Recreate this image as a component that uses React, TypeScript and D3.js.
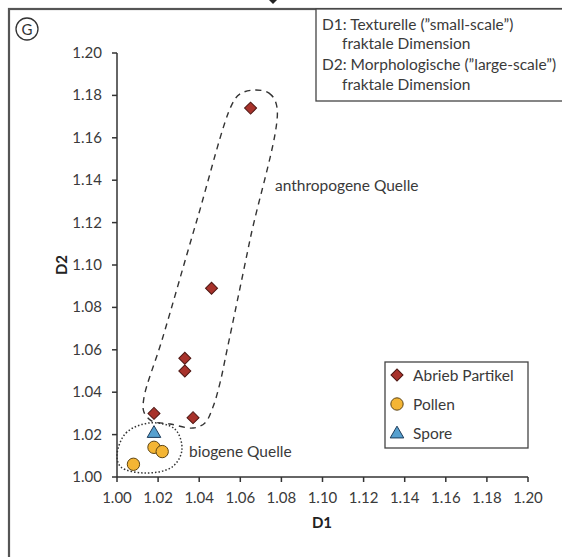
import React from 'react';
import * as d3 from 'd3';

// values
const abriebD1 = [1.065, 1.046, 1.033, 1.033, 1.018, 1.037];
const abriebD2 = [1.174, 1.089, 1.056, 1.050, 1.030, 1.028];
const pollenD1 = [1.008, 1.018, 1.022];
const pollenD2 = [1.006, 1.014, 1.012];
const sporeD1 = [1.018];
const sporeD2 = [1.021];

const ticks = [1.0, 1.02, 1.04, 1.06, 1.08, 1.1, 1.12, 1.14, 1.16, 1.18, 1.2];

// hand-drawn outlines (data coordinates)
const anthroOutline: [number, number][] = [
  [1.0662, 1.1825], [1.074, 1.1811], [1.0779, 1.1741], [1.0647, 1.1118],
  [1.0535, 1.0597], [1.0501, 1.0443], [1.0467, 1.033], [1.0428, 1.0255],
  [1.037, 1.0231], [1.0258, 1.025], [1.017, 1.0264], [1.0131, 1.0307],
  [1.0131, 1.0373], [1.0219, 1.0646], [1.0389, 1.1212], [1.056, 1.1759],
  [1.0599, 1.1807],
];
const bioOutline: [number, number][] = [
  [1.0, 1.0104], [1.0044, 1.0208], [1.016, 1.0255], [1.0282, 1.0226],
  [1.0316, 1.0127], [1.0268, 1.0047], [1.0136, 1.0019], [1.0019, 1.0047],
];

const legendItems = ['Abrieb Partikel', 'Pollen', 'Spore'];

const W = 562, H = 557;
const font = 'Lato, "Open Sans", sans-serif';
const textCol = '#3a3a3a';
const redFill = '#a8322b', redStroke = '#4d1612';
const yelFill = '#f4b534', yelStroke = '#5e4514';
const bluFill = '#56a0cf', bluStroke = '#1d3b5a';

const x = d3.scaleLinear().domain([1.0, 1.2]).range([117, 528]);
const y = d3.scaleLinear().domain([1.0, 1.2]).range([477, 53]);

const diamond = d3.symbol(d3.symbolSquare, 72)()!;
const circle = d3.symbol(d3.symbolCircle, 120)()!;
const triangle = d3.symbol(d3.symbolTriangle, 80)()!;

const outlineLine = d3
  .line<[number, number]>()
  .x(d => x(d[0]))
  .y(d => y(d[1]))
  .curve(d3.curveCatmullRomClosed.alpha(0.5));

export default function App() {
  const abrieb = abriebD1.map((d, i) => [d, abriebD2[i]]);
  const pollen = pollenD1.map((d, i) => [d, pollenD2[i]]);
  const spore = sporeD1.map((d, i) => [d, sporeD2[i]]);

  return (
    <svg width={W} height={H} style={{ position: 'absolute', left: 0, top: 0, background: '#fff' }} fontFamily={font}>
      {/* cut-off bit of the panel above */}
      <path d="M269,0 L277,0 L273,4 Z" fill="#222" />

      {/* panel frame */}
      <rect x={9} y={9} width={W + 20} height={H + 20} fill="none" stroke="#555" strokeWidth={2.2} />

      {/* panel letter */}
      <circle cx={27} cy={29} r={11} fill="none" stroke="#333" strokeWidth={1.3} />
      <text x={27} y={34.5} textAnchor="middle" fontSize={15} fill="#333">G</text>

      {/* info box */}
      <rect x={316} y={9} width={300} height={92} fill="#fff" stroke="#444" strokeWidth={1.3} />
      <g fontSize={15.5} fill={textCol}>
        <text x={322} y={30}>D1: Texturelle (”small-scale”)</text>
        <text x={342} y={49}>fraktale Dimension</text>
        <text x={322} y={70}>D2: Morphologische (”large-scale”)</text>
        <text x={342} y={90}>fraktale Dimension</text>
      </g>

      {/* axes */}
      <g stroke="#333" strokeWidth={1.5}>
        <line x1={x(1.0)} x2={x(1.2)} y1={y(1.0)} y2={y(1.0)} />
        <line x1={x(1.0)} x2={x(1.0)} y1={y(1.0)} y2={y(1.2)} />
        {ticks.map(t => (
          <line key={'xt' + t} x1={x(t)} x2={x(t)} y1={y(1.0)} y2={y(1.0) + 5} />
        ))}
        {ticks.map(t => (
          <line key={'yt' + t} x1={x(1.0) - 5} x2={x(1.0)} y1={y(t)} y2={y(t)} />
        ))}
      </g>
      <g fontSize={15} fill={textCol}>
        {ticks.map(t => (
          <text key={'xl' + t} x={x(t)} y={y(1.0) + 26} textAnchor="middle">{t.toFixed(2)}</text>
        ))}
        {ticks.map(t => (
          <text key={'yl' + t} x={x(1.0) - 15} y={y(t) + 5} textAnchor="end">{t.toFixed(2)}</text>
        ))}
      </g>
      <text x={322} y={528} textAnchor="middle" fontSize={15} fontWeight="bold" fill="#222">D1</text>
      <text transform={`translate(67,${y(1.1)}) rotate(-90)`} textAnchor="middle" fontSize={15} fontWeight="bold" fill="#222">D2</text>

      {/* group outlines */}
      <path d={outlineLine(anthroOutline)!} fill="none" stroke="#333" strokeWidth={1.4} strokeDasharray="6 5" />
      <path d={outlineLine(bioOutline)!} fill="none" stroke="#333" strokeWidth={1.5} strokeDasharray="1.5 2" />
      <text x={275} y={191} fontSize={15.5} fill={textCol}>anthropogene Quelle</text>
      <text x={189} y={457} fontSize={15.5} fill={textCol}>biogene Quelle</text>

      {/* points */}
      {abrieb.map((d, i) => (
        <path key={'a' + i} d={diamond} transform={`translate(${x(d[0])},${y(d[1])}) rotate(45)`} fill={redFill} stroke={redStroke} strokeWidth={1} />
      ))}
      {pollen.map((d, i) => (
        <path key={'p' + i} d={circle} transform={`translate(${x(d[0])},${y(d[1])})`} fill={yelFill} stroke={yelStroke} strokeWidth={1} />
      ))}
      {spore.map((d, i) => (
        <path key={'s' + i} d={triangle} transform={`translate(${x(d[0])},${y(d[1]) + 1})`} fill={bluFill} stroke={bluStroke} strokeWidth={1} />
      ))}

      {/* legend */}
      <rect x={385} y={362} width={143} height={86} fill="#fff" stroke="#444" strokeWidth={1.3} />
      {legendItems.map((name, i) => {
        const cy = 375 + i * 29;
        const sym = i === 0 ? diamond : i === 1 ? circle : triangle;
        const fill = i === 0 ? redFill : i === 1 ? yelFill : bluFill;
        const stroke = i === 0 ? redStroke : i === 1 ? yelStroke : bluStroke;
        return (
          <g key={name}>
            <path d={sym} transform={`translate(397,${cy + (i === 2 ? 1 : 0)})${i === 0 ? ' rotate(45)' : ''}`} fill={fill} stroke={stroke} strokeWidth={1} />
            <text x={413} y={cy + 5.5} fontSize={15.5} fill={textCol}>{name}</text>
          </g>
        );
      })}
    </svg>
  );
}
